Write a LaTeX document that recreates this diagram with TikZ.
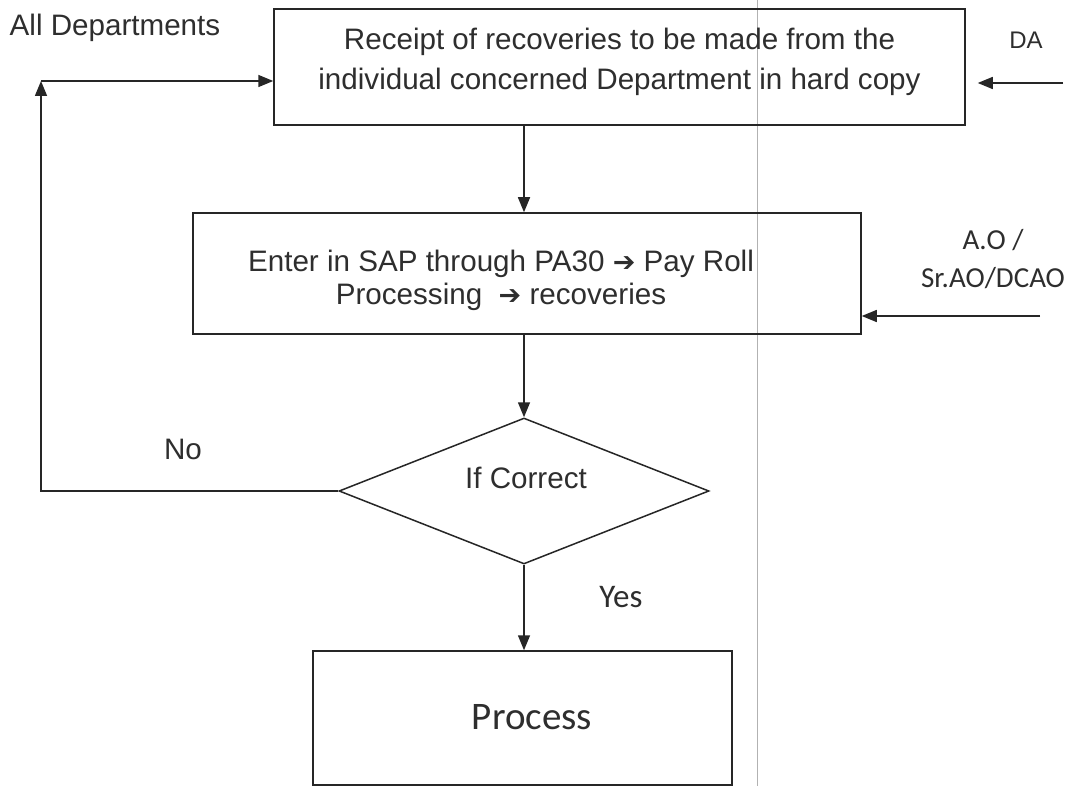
\documentclass[tikz,border=0pt]{standalone}
\usepackage{fontspec}
\setmainfont{Liberation Sans}
\newfontfamily\calib{Carlito}
\newfontfamily\dejavu{DejaVu Sans Bold}
\usetikzlibrary{arrows.meta,shapes.geometric}

\newcommand{\inarrow}{{\dejavu\fontsize{27}{27}\selectfont ➔}}

\begin{document}
\begin{tikzpicture}[x=1pt,y=-1pt,
  ink/.style={draw=black!85, line width=1.5pt},
  boxnode/.style={ink, rectangle, inner sep=0pt},
  arr/.style={ink, -{Triangle[length=15pt,width=12pt]}},
  txt/.style={text=black!82, inner sep=0pt, align=center, font=\fontsize{29.6}{40}\selectfont},
]
\useasboundingbox (0,0) rectangle (1081,786);
\fill[white] (0,0) rectangle (1081,786);

% crease line across the page
\draw[gray!60, line width=0.8pt] (757,0) -- (757,786);

% boxes
\node[boxnode, minimum width=691pt, minimum height=116pt] (recv) at (619.5,67) {};
\node[txt] (recvtxt) at (619.5,62)
  {Receipt of recoveries to be made from the\\individual concerned Department in hard copy};

\node[boxnode, minimum width=668pt, minimum height=121pt] (sap) at (527,273.5) {};
\node[txt, font=\fontsize{29.6}{33}\selectfont] (saptxt) at (501,280)
  {Enter in SAP through PA30 \inarrow{} Pay Roll\\Processing \ \inarrow{} recoveries};

\node[ink, diamond, minimum width=370pt, minimum height=146pt, inner sep=0pt] (chk) at (524,491) {};
\node[txt] (chktxt) at (526,478) {If Correct};

\node[boxnode, minimum width=419pt, minimum height=134pt] (proc) at (522.5,718) {};
\node[txt, font=\calib\fontsize{39}{39}\selectfont] (proctxt) at (532,717) {Process};

% side labels
\node[txt] (alldep) at (115,28) {All Departments};
\node[txt, font=\fontsize{24}{24}\selectfont] (da) at (1026,40) {DA};
\node[txt, font=\calib\fontsize{29}{38}\selectfont] (ao) at (993,259) {A.O /\\Sr.AO/DCAO};
\node[txt] (no) at (183,449) {No};
\node[txt, font=\calib\fontsize{33}{33}\selectfont] (yes) at (621,597) {Yes};

% free ends
\coordinate (bend) at (41,491);
\coordinate (loop) at (41,81);
\coordinate (dain) at (1063,83);
\coordinate (aoin) at (1040,316);

% main flow
\draw[arr] (recv.south -| chk.north) -- (sap.north -| chk.north);
\draw[arr] (sap.south -| chk.north) -- (chk.north);
\draw[arr] (chk.south) -- (proc.north -| chk.south);

% return path on "No"
\draw[arr] (chk.west) -- (bend) -- (loop);
\draw[arr] (loop) -- (loop -| recv.west);

% incoming inputs
\draw[arr, shorten >=12pt] (dain) -- (dain -| recv.east);
\draw[arr] (aoin) -- (aoin -| sap.east);
\end{tikzpicture}
\end{document}
